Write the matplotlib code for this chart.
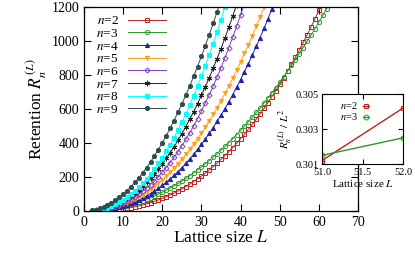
import matplotlib
matplotlib.use('Agg')
import matplotlib.pyplot as plt

plt.rcParams['font.family'] = ['Liberation Serif', 'DejaVu Serif']
plt.rcParams['mathtext.fontset'] = 'stix'

# retention R_n(L), one value per lattice size L = 2, 3, ...
L_start = 2
r_n2 = [0.2, 0.6, 1.3, 2.3, 3.6, 5.3, 7.4, 9.9, 12.9, 16.4, 20.4, 25.0, 30.1, 35.9, 42.2,
        49.1, 56.8, 65.0, 74.0, 83.7, 94.1, 105.3, 117.2, 129.9, 143.4, 157.7, 172.8,
        188.8, 205.6, 223.4, 241.9, 261.4, 281.9, 303.2, 325.6, 348.9, 373.1, 398.4,
        424.6, 451.9, 480.2, 509.5, 539.9, 571.4, 603.9, 637.5, 672.3, 708.1, 745.1,
        783.2, 822.4, 863.0, 904.6, 947.3, 991.5, 1036.7, 1082.9, 1130.7, 1179.5, 1230.0]
r_n3 = [0.9, 2.1, 3.8, 6.0, 8.8, 12.2, 16.2, 20.7, 25.8, 31.5, 37.8, 44.8, 52.3, 60.5,
        69.2, 78.6, 88.7, 99.3, 110.6, 122.6, 135.1, 148.4, 162.2, 176.7, 191.9, 207.7,
        224.2, 241.4, 259.2, 277.7, 296.8, 316.7, 337.2, 358.3, 380.2, 402.6, 425.8,
        449.7, 474.3, 499.6, 525.5, 552.1, 579.4, 607.5, 636.1, 665.4, 695.6, 726.4,
        757.8, 790.0, 822.8, 856.5, 890.8, 925.7, 961.6, 998.0, 1034.9, 1072.9, 1111.3,
        1150.8, 1190.6, 1231.4]
r_n4 = [0.7, 1.7, 3.4, 5.7, 8.8, 12.6, 17.3, 22.9, 29.3, 36.7, 45.1, 54.5, 64.9, 76.3,
        88.9, 102.6, 117.4, 133.3, 150.5, 168.8, 188.4, 209.3, 231.4, 254.8, 279.6,
        305.6, 333.1, 361.8, 391.9, 423.4, 456.3, 490.7, 526.6, 563.8, 602.6, 642.8,
        684.6, 728.0, 772.8, 819.2, 867.2, 916.6, 967.7, 1020.5, 1074.6, 1130.6,
        1188.3, 1247.5]
r_n5 = [1.0, 2.6, 4.9, 8.1, 12.3, 17.4, 23.5, 30.6, 38.7, 48.0, 58.4, 69.9, 82.6, 96.5,
        111.5, 127.8, 145.4, 164.2, 184.3, 205.7, 228.3, 252.4, 277.8, 304.5, 332.6,
        362.0, 392.9, 425.1, 458.8, 494.0, 530.6, 568.7, 608.3, 649.1, 691.7, 735.6,
        781.2, 828.3, 876.8, 926.9, 978.5, 1031.7, 1086.6, 1143.0, 1200.8, 1260.2]
r_n6 = [1.0, 2.7, 5.3, 8.9, 13.6, 19.5, 26.7, 35.1, 45.0, 56.2, 68.9, 83.1, 98.8, 116.2,
        135.1, 155.7, 177.9, 201.9, 227.7, 255.2, 284.6, 315.9, 349.0, 383.9, 420.8,
        459.6, 500.4, 543.3, 588.1, 635.1, 684.0, 735.1, 788.4, 843.5, 901.2, 960.9,
        1022.9, 1087.0, 1152.9, 1221.5]
r_n7 = [1.7, 4.2, 7.9, 13.0, 19.4, 27.3, 36.6, 47.5, 60.0, 74.0, 89.7, 107.1, 126.2,
        146.9, 169.4, 193.7, 219.8, 247.7, 277.4, 309.0, 342.5, 377.9, 415.2, 454.4,
        495.6, 538.6, 583.7, 630.8, 679.9, 730.9, 784.0, 839.3, 896.6, 955.8, 1017.2,
        1080.8, 1146.5, 1214.4]
r_n8 = [1.7, 4.2, 8.0, 13.3, 20.2, 28.7, 38.9, 50.9, 64.7, 80.4, 98.1, 117.7, 139.4,
        163.1, 188.9, 217.0, 247.2, 279.6, 314.3, 351.3, 390.6, 432.3, 476.4, 522.8,
        571.7, 623.0, 676.9, 733.3, 792.3, 853.9, 917.9, 984.7, 1054.2, 1126.0, 1200.8,
        1278.2]
r_n9 = [3.8, 8.7, 15.5, 24.4, 35.3, 48.1, 63.0, 79.9, 98.9, 119.9, 142.9, 168.0, 195.2,
        224.4, 255.6, 288.9, 324.3, 361.7, 401.2, 442.8, 486.4, 532.2, 580.0, 629.8,
        681.7, 735.6, 791.7, 849.9, 910.2, 972.6, 1036.9, 1103.4, 1172.1, 1242.6]

# inset: R/L^2 near the crossing of n=2 and n=3
inset_L = [51, 52]
inset_n2 = [0.3012, 0.3042]
inset_n3 = [0.3015, 0.3025]

series = [
    ('2', r_n2, '#c02020', 's', 'none'),
    ('3', r_n3, '#2a9a2a', 'o', 'none'),
    ('4', r_n4, '#2222a8', '^', None),
    ('5', r_n5, '#ffa020', 'v', None),
    ('6', r_n6, '#8040c0', 'D', 'none'),
    ('7', r_n7, '#222222', (6, 2, 0), None),
    ('8', r_n8, '#00ffff', 's', None),
    ('9', r_n9, '#2f4f4f', 'o', None),
]

fig = plt.figure(figsize=(4.15, 2.58), dpi=100)
ax = fig.add_axes([0.2024, 0.1822, 0.6603, 0.7907])

for n, vals, col, mk, mfc in series:
    L = list(range(L_start, L_start + len(vals)))
    ms = 4.0 if mk == (6, 2, 0) else (2.6 if mk == 'D' else 3.0)
    kw = dict(color=col, marker=mk, ms=ms, lw=0.7, mew=0.7, label='$n$=' + n)
    if mfc is not None:
        kw['mfc'] = mfc
    ax.plot(L, vals, **kw)

ax.set_xlim(0, 70)
ax.set_ylim(0, 1200)
ax.set_xticks(range(0, 71, 10))
ax.set_yticks(range(0, 1201, 200))
ax.tick_params(direction='in', top=True, right=True, length=5, width=0.8, labelsize=10)
for s in ax.spines.values():
    s.set_linewidth(0.9)
ax.set_xlabel('Lattice size $L$', fontsize=12.5, labelpad=1)
ax.set_ylabel('Retention $R_n^{\\,(L)}$', fontsize=12.5, labelpad=2)

ax.legend(loc='upper left', bbox_to_anchor=(0.01, 1.005), frameon=False, fontsize=9.5,
          markerfirst=False, handlelength=2.9, handletextpad=0.7, labelspacing=0.03,
          numpoints=1, borderaxespad=0.3)

# inset
axi = fig.add_axes([0.776, 0.364, 0.195, 0.271])
axi.plot(inset_L, inset_n2, color='#c02020', lw=1.0, marker='s', ms=3.5, mfc='none', mew=0.7,
         label='$n$=2')
axi.plot(inset_L, inset_n3, color='#2a9a2a', lw=1.0, marker='o', ms=3.5, mfc='none', mew=0.7,
         label='$n$=3')
axi.plot(inset_L, inset_n2, color='#c02020', lw=0, marker='+', ms=5, mew=0.7)
axi.plot(inset_L, inset_n3, color='#2a9a2a', lw=0, marker='+', ms=5, mew=0.7)
axi.set_xlim(51, 52)
axi.set_ylim(0.301, 0.305)
axi.set_xticks([51.0, 51.5, 52.0])
axi.set_xticklabels(['51.0', '51.5', '52.0'])
axi.set_yticks([0.301, 0.303, 0.305])
axi.set_yticklabels(['0.301', '0.303', '0.305'])
axi.tick_params(direction='in', top=True, right=True, length=3.5, width=0.8, labelsize=7.5, pad=2.5)
axi.set_xlabel('Lattice size $L$', fontsize=8, labelpad=1)
axi.set_ylabel('$R_n^{\\,(L)}\\ /\\ L^2$', fontsize=8, labelpad=1)
axi.legend(loc='upper left', frameon=False, fontsize=7.5, markerfirst=False, handlelength=0.6,
           handletextpad=0.5, labelspacing=0.0, numpoints=1, borderaxespad=0.2,
           bbox_to_anchor=(0.14, 1.0))

fig.savefig('out.png', dpi=100)
